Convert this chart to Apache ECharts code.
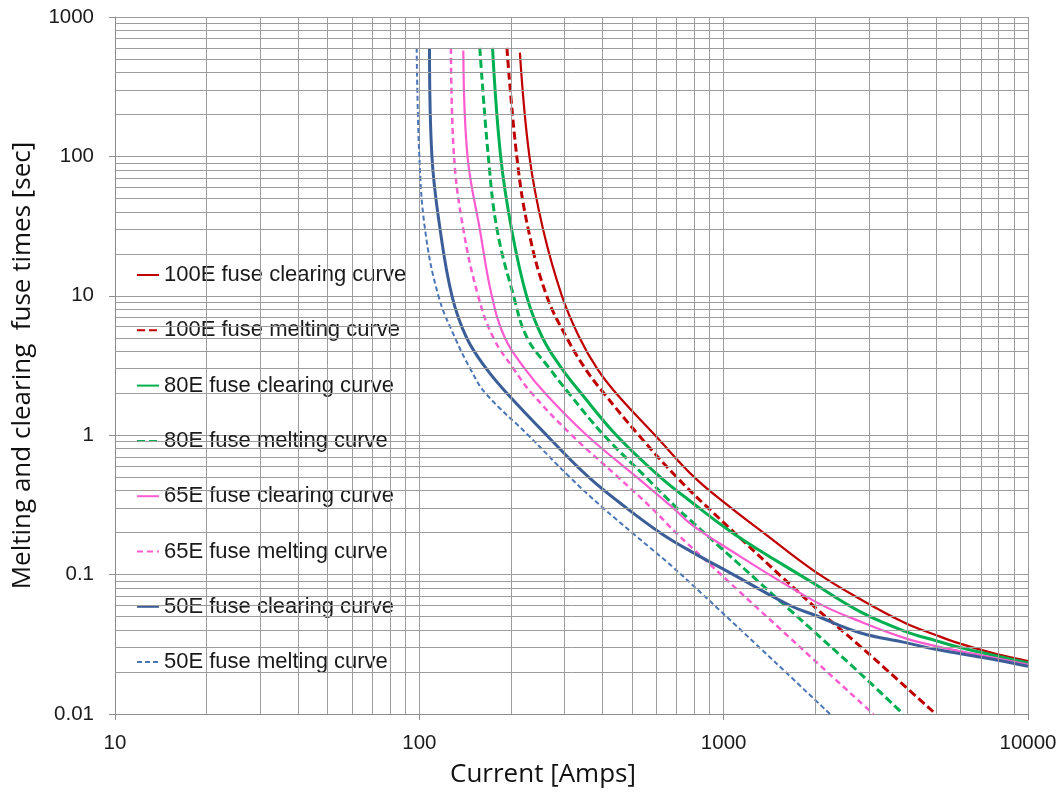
<!DOCTYPE html>
<html>
<head>
<meta charset="utf-8">
<title>Fuse curves</title>
<script src="https://cdn.jsdelivr.net/npm/echarts@6/dist/echarts.min.js"></script>
<style>
  html, body { margin: 0; padding: 0; background: #fff; }
  #chart { width: 1062px; height: 794px; }
</style>
</head>
<body>
<div id="chart"></div>
<script type="text/javascript">
    // values: current [A] and time [s]
    var c100Amps = [214, 230, 255, 294, 336, 384, 443, 595, 800, 1060, 1350, 1986, 2850, 3963, 4974, 5942, 7888, 10000];
    var c100Secs = [555, 100, 30, 10, 5, 3, 2, 1, 0.5, 0.3, 0.2, 0.106, 0.0655, 0.0448, 0.0369, 0.0321, 0.0269, 0.024];

    var m100Amps = [194, 209, 228, 262, 305, 351, 404, 526, 701, 890, 1986, 2805, 4974];
    var m100Secs = [600, 100, 30, 10, 5, 3, 2, 1, 0.5, 0.3, 0.0589, 0.0307, 0.01];

    var c80Amps = [174, 185, 201, 225, 254, 294, 340, 444, 619, 768, 1085, 1950, 2805, 3963, 4974, 5942, 7888, 10000];
    var c80Secs = [600, 100, 30, 10, 5, 3, 2, 1, 0.5, 0.343, 0.195, 0.088, 0.0542, 0.039, 0.0336, 0.0301, 0.0261, 0.0232];

    var m80Amps = [158, 168.5, 180, 204, 226, 268, 310, 404, 555, 702, 775, 1652, 2805, 3890];
    var m80Secs = [600, 100, 30, 10, 5, 3, 2, 1, 0.5, 0.3, 0.2466, 0.0557, 0.0196, 0.01];

    var c65Amps = [139.5, 144, 158, 173, 191, 222, 259, 355, 518, 683, 775, 950, 2000, 2900, 3963, 4974, 5942, 7888, 10000];
    var c65Secs = [575, 100, 30, 10, 5, 3, 2, 1, 0.5, 0.3, 0.233, 0.172, 0.064, 0.0448, 0.0349, 0.0307, 0.0283, 0.0251, 0.0226];

    var m65Amps = [127, 130, 139.5, 156, 175, 204, 234, 317, 450, 580, 719, 3102];
    var m65Secs = [600, 100, 30, 10, 5, 3, 2, 1, 0.5, 0.3, 0.187, 0.01];

    var c50Amps = [108, 110, 117, 128, 143, 166, 194, 262, 360, 480, 618, 775, 1076, 1652, 1986, 2805, 3963, 4974, 5942, 7888, 10000];
    var c50Secs = [600, 100, 30, 10, 5, 3, 2, 1, 0.5, 0.3, 0.2, 0.148, 0.1, 0.06, 0.0513, 0.0383, 0.0325, 0.0291, 0.0272, 0.0244, 0.022];

    var m50Amps = [98, 100, 104.4, 115.5, 131, 147, 165, 228, 312, 402, 500, 725, 2234];
    var m50Secs = [600, 100, 30, 10, 5, 3, 2, 1, 0.5, 0.3, 0.2, 0.1, 0.01];

    var seriesNames = [
        '100E fuse clearing curve', '100E fuse melting curve',
        '80E fuse clearing curve', '80E fuse melting curve',
        '65E fuse clearing curve', '65E fuse melting curve',
        '50E fuse clearing curve', '50E fuse melting curve'
    ];

    function pairs(xs, ys) {
        return xs.map(function (x, i) { return [x, ys[i]]; });
    }

    // minor log grid lines (2..9 in each decade)
    function minorLines(lo, hi) {
        var out = [];
        for (var d = lo; d < hi; d *= 10) {
            for (var k = 2; k <= 9; k++) out.push(+(d * k).toPrecision(6));
        }
        return out;
    }
    var xMinor = minorLines(10, 10000);
    var yMinor = minorLines(0.01, 1000);

    var gridColor = '#9c9c9c';
    var tickFont = { fontFamily: 'Liberation Sans', fontSize: 20.5, color: '#1a1a1a' };

    function curve(name, xs, ys, color, width, dash) {
        return {
            name: name,
            type: 'line',
            data: pairs(xs, ys),
            symbol: 'none',
            smooth: 0.4,
            z: 3,
            lineStyle: { color: color, width: width, type: dash || 'solid' },
            itemStyle: { color: color }
        };
    }

    function fmt(v) { return String(+v.toPrecision(6)); }

    var myChart = echarts.init(document.getElementById('chart'), null, { renderer: 'canvas' });

    var option = {
        animation: false,
        backgroundColor: '#fff',
        grid: { left: 115, top: 17, right: 34, bottom: 80 },
        legend: {
            data: seriesNames,
            orient: 'vertical',
            left: 131,
            top: 258.5,
            itemWidth: 22,
            itemHeight: 14,
            itemGap: 32.3,
            itemStyle: { opacity: 0 },
            textStyle: { fontFamily: 'Liberation Sans', fontSize: 22, lineHeight: 23, color: '#1a1a1a' }
        },
        xAxis: {
            type: 'log',
            logBase: 10,
            min: 10,
            max: 10000,
            name: 'Current [Amps]',
            nameLocation: 'middle',
            nameGap: 48,
            nameTextStyle: { fontFamily: 'Open Sans', fontSize: 26, color: '#111', padding: [0, 57, 0, 0] },
            axisLine: { show: true, lineStyle: { color: '#8c8c8c', width: 1 } },
            axisTick: { show: true, length: 6, lineStyle: { color: '#8c8c8c' } },
            axisLabel: Object.assign({ margin: 19, formatter: fmt }, tickFont),
            splitLine: { show: true, lineStyle: { color: gridColor, width: 1 } }
        },
        yAxis: {
            type: 'log',
            logBase: 10,
            min: 0.01,
            max: 1000,
            name: 'Melting and clearing  fuse times [sec]',
            nameLocation: 'middle',
            nameRotate: 90,
            nameGap: 79,
            nameTextStyle: { fontFamily: 'Open Sans', fontSize: 26, color: '#111' },
            axisLine: { show: true, lineStyle: { color: '#8c8c8c', width: 1 } },
            axisTick: { show: true, length: 6, lineStyle: { color: '#8c8c8c' } },
            axisLabel: Object.assign({ margin: 21, formatter: fmt }, tickFont),
            splitLine: { show: true, lineStyle: { color: gridColor, width: 1 } }
        },
        series: [
            {
                name: 'minor grid',
                type: 'line',
                data: [],
                z: 1,
                silent: true,
                markLine: {
                    silent: true,
                    animation: false,
                    symbol: ['none', 'none'],
                    label: { show: false },
                    lineStyle: { color: gridColor, type: 'solid', width: 1 },
                    emphasis: { disabled: true },
                    data: xMinor.map(function (v) { return { xAxis: v }; })
                        .concat(yMinor.map(function (v) { return { yAxis: v }; }))
                }
            },
            curve(seriesNames[0], c100Amps, c100Secs, '#c00000', 2.2),
            curve(seriesNames[1], m100Amps, m100Secs, '#c00000', 3, [8, 4]),
            curve(seriesNames[2], c80Amps, c80Secs, '#00b050', 3),
            curve(seriesNames[3], m80Amps, m80Secs, '#00b050', 3, [8, 4]),
            curve(seriesNames[4], c65Amps, c65Secs, '#ff5bd0', 2.2),
            curve(seriesNames[5], m65Amps, m65Secs, '#ff5bd0', 2.5, [6, 4]),
            curve(seriesNames[6], c50Amps, c50Secs, '#3b5e98', 3),
            curve(seriesNames[7], m50Amps, m50Secs, '#4a76b8', 2, [5, 3])
        ]
    };

    myChart.setOption(option);
</script>
</body>
</html>
